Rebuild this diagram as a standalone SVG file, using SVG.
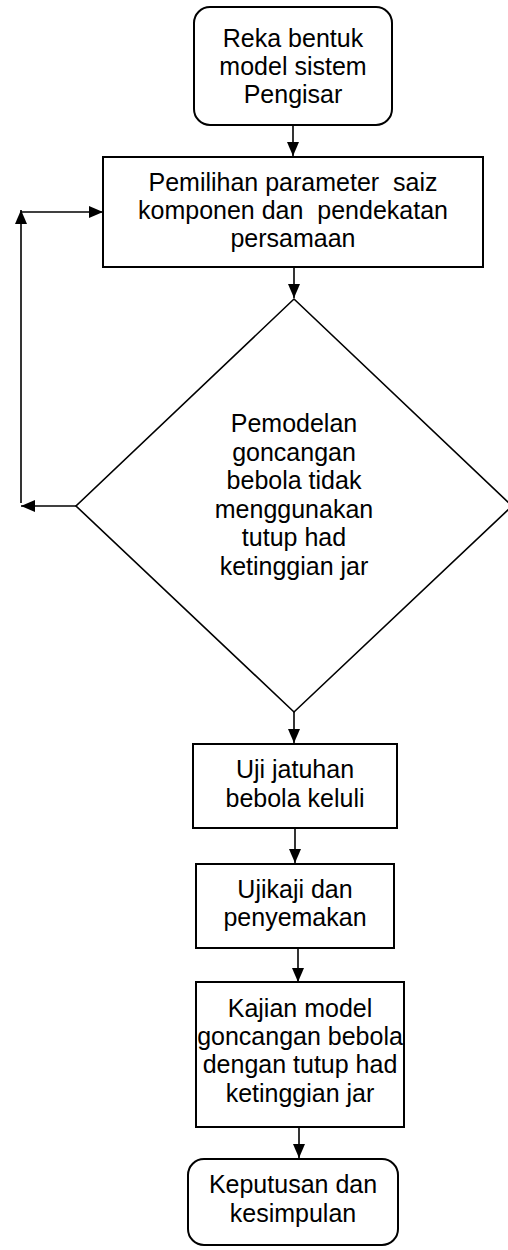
<svg xmlns="http://www.w3.org/2000/svg" width="508" height="1250" viewBox="0 0 508 1250">
<style>
.box{fill:#fff;stroke:#000;stroke-width:2}
.dia{fill:#fff;stroke:#000;stroke-width:1.6}
.t{font-family:"Liberation Sans",Arial,sans-serif;font-size:25px;fill:#000;text-anchor:middle}
.c{fill:none;stroke:#000;stroke-width:1.6}
</style>
<defs>
<marker id="ah" viewBox="0 0 14 12" refX="14" refY="6" markerWidth="14" markerHeight="12" markerUnits="userSpaceOnUse" orient="auto">
<path d="M0,0 L14,6 L0,12 Z" fill="#000"/>
</marker>
</defs>
<g id="connectors">
<line class="c" x1="293" y1="125" x2="293" y2="156" marker-end="url(#ah)"/>
<line class="c" x1="294" y1="267" x2="294" y2="298" marker-end="url(#ah)"/>
<line class="c" x1="76" y1="506" x2="21" y2="506" marker-end="url(#ah)"/>
<line class="c" x1="21" y1="503" x2="21" y2="210" marker-end="url(#ah)"/>
<line class="c" x1="21" y1="212" x2="103" y2="212" marker-end="url(#ah)"/>
<line class="c" x1="294" y1="712" x2="294" y2="743" marker-end="url(#ah)"/>
<line class="c" x1="295" y1="828" x2="295" y2="863" marker-end="url(#ah)"/>
<line class="c" x1="298" y1="948" x2="298" y2="982" marker-end="url(#ah)"/>
<line class="c" x1="299" y1="1127" x2="299" y2="1158" marker-end="url(#ah)"/>
</g>
<g id="n1">
<rect class="box" x="194" y="7" width="198" height="118" rx="16"/>
<text class="t" x="293" y="47">Reka bentuk</text>
<text class="t" x="293" y="75">model sistem</text>
<text class="t" x="293" y="103">Pengisar</text>
</g>
<g id="n2">
<rect class="box" x="103" y="157" width="380" height="110"/>
<text class="t" x="293" y="191" xml:space="preserve">Pemilihan parameter  saiz</text>
<text class="t" x="293" y="219" xml:space="preserve">komponen dan  pendekatan</text>
<text class="t" x="293" y="247">persamaan</text>
</g>
<g id="n3">
<polygon class="dia" points="294,299 512,506 294,712 76,506"/>
<text class="t" x="294" y="432">Pemodelan</text>
<text class="t" x="294" y="460.6">goncangan</text>
<text class="t" x="294" y="489.2">bebola tidak</text>
<text class="t" x="294" y="517.8">menggunakan</text>
<text class="t" x="294" y="546.4">tutup had</text>
<text class="t" x="294" y="575">ketinggian jar</text>
</g>
<g id="n4">
<rect class="box" x="193" y="744" width="204" height="84"/>
<text class="t" x="295" y="778">Uji jatuhan</text>
<text class="t" x="295" y="807">bebola keluli</text>
</g>
<g id="n5">
<rect class="box" x="196" y="864" width="198" height="84"/>
<text class="t" x="295" y="898">Ujikaji dan</text>
<text class="t" x="295" y="926">penyemakan</text>
</g>
<g id="n6">
<rect class="box" x="196" y="982" width="208" height="145"/>
<text class="t" x="300" y="1017">Kajian model</text>
<text class="t" x="300" y="1045">goncangan bebola</text>
<text class="t" x="300" y="1073">dengan tutup had</text>
<text class="t" x="300" y="1102">ketinggian jar</text>
</g>
<g id="n7">
<rect class="box" x="188" y="1159" width="210" height="86" rx="16"/>
<text class="t" x="293" y="1193">Keputusan dan</text>
<text class="t" x="293" y="1222">kesimpulan</text>
</g>
</svg>
